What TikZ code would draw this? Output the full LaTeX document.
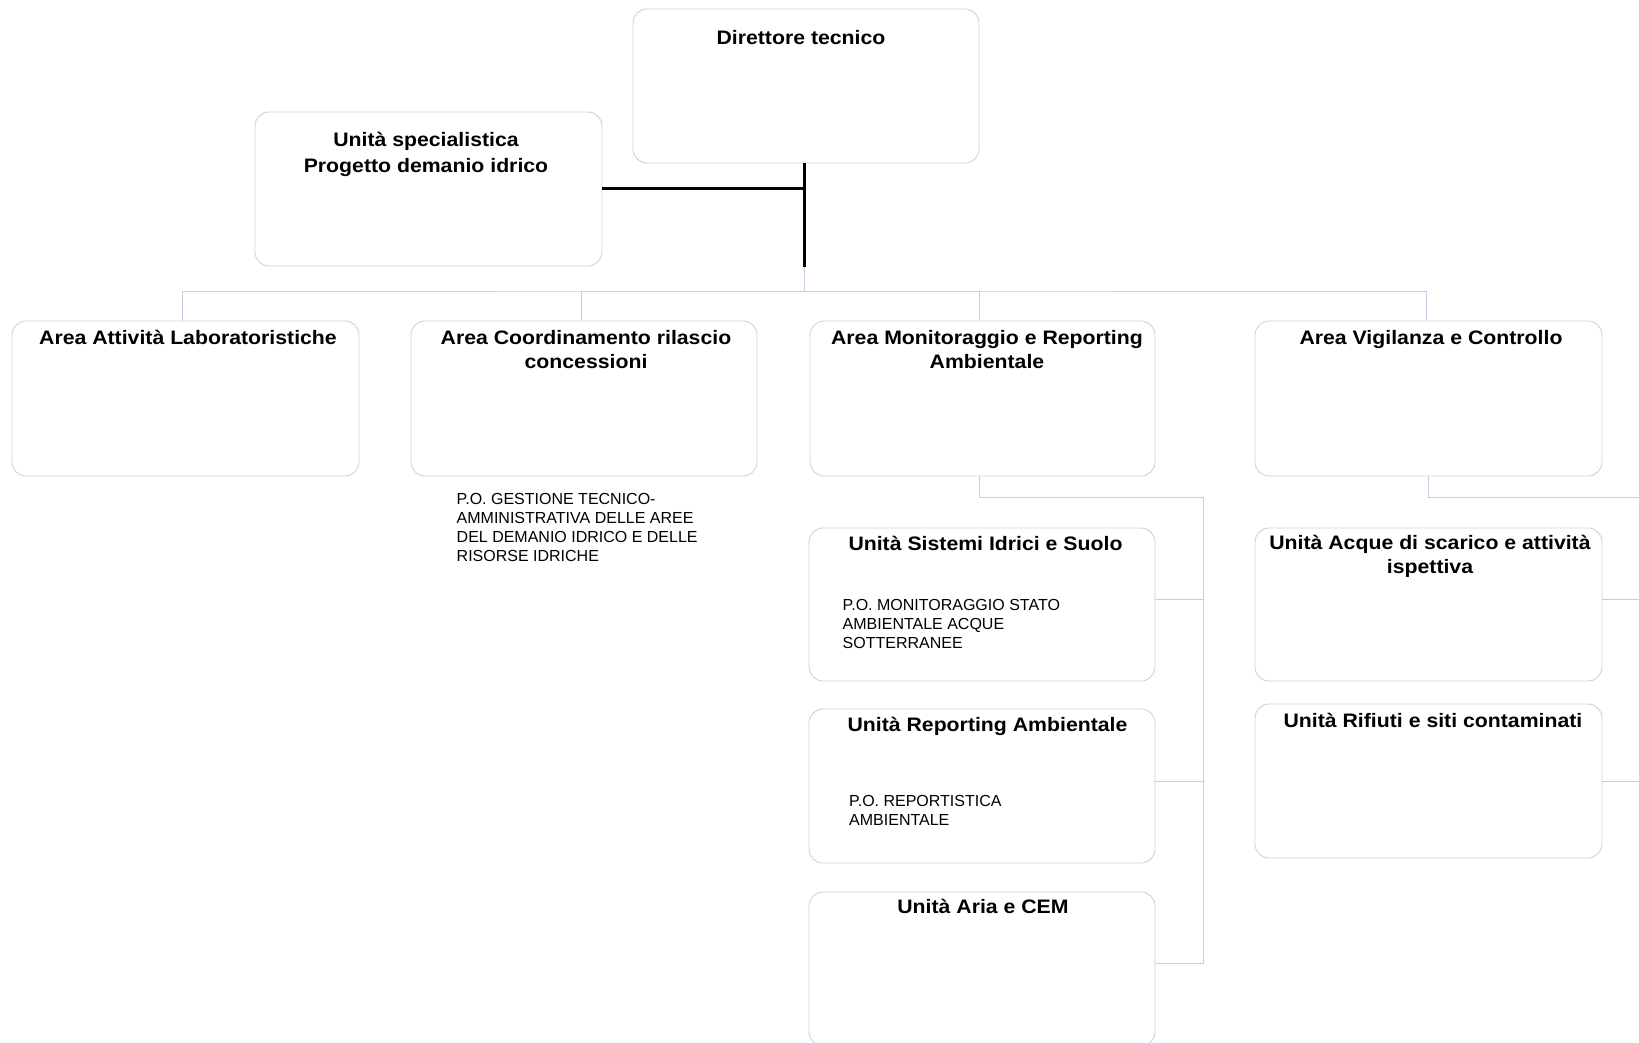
\documentclass[tikz,border=0pt]{standalone}
\usepackage{fontspec}
\setmainfont{Liberation Sans}
\newfontfamily\titlefont{Liberation Sans}[FakeStretch=1.09]
\usetikzlibrary{calc}

\definecolor{boxline}{RGB}{200,210,228}
\definecolor{linkline}{RGB}{198,204,228}

\begin{document}
\begin{tikzpicture}[x=1pt,y=-1pt,
  unit/.style={draw=boxline, line width=0.9pt, rounded corners=14pt, inner sep=0pt,
    outer sep=0pt, minimum width=346pt, minimum height=154pt},
  title/.style={font=\titlefont\bfseries\fontsize{19.5}{24}\selectfont, anchor=base,
    align=center, inner sep=0pt},
  po/.style={font=\fontsize{16}{19}\selectfont, anchor=base west, align=left, inner sep=0pt},
  link/.style={draw=linkline, line width=1pt},
  staff/.style={draw=black, line width=3pt}]

\useasboundingbox (0,0) rectangle (1639,1043);
\clip (0,0) rectangle (1639,1043);

% boxes
\node[unit] (dir) at (806,86) {};
\node[unit, minimum width=347pt] (spec) at (428.5,189) {};
\node[unit, minimum width=347pt, minimum height=155pt] (lab) at (185.5,398.5) {};
\node[unit, minimum height=155pt] (coord) at (584,398.5) {};
\node[unit, minimum width=345pt, minimum height=155pt] (mon) at (982.5,398.5) {};
\node[unit, minimum width=347pt, minimum height=155pt] (vig) at (1428.5,398.5) {};
\node[unit, minimum height=153pt] (sist) at (982,604.5) {};
\node[unit] (rep) at (982,786) {};
\node[unit] (aria) at (982,969) {};
\node[unit, minimum width=347pt, minimum height=153pt] (acque) at (1428.5,604.5) {};
\node[unit, minimum width=347pt] (rif) at (1428.5,781) {};

% staff line and main hierarchy
\coordinate (hub) at (804,291);
\coordinate (staffend) at (804,267);
\draw[link] (staffend) -- (hub);
\draw[link] ([xshift=-3.5pt]lab.north) |- (hub) -| ([xshift=-2.5pt]vig.north);
\draw[link] ([xshift=-3pt]coord.north) |- (hub);
\draw[link] ([xshift=-3.5pt]mon.north) |- (hub);
\draw[staff] (dir.south -| hub) -- (staffend);
\draw[staff] (spec.east) -- (spec.east -| hub);

% units under Area Monitoraggio
\coordinate (mtrunk) at (1203,497);
\draw[link] ([xshift=-3.5pt]mon.south) |- (mtrunk) |- ([yshift=5.5pt]aria.east);
\draw[link] ([yshift=5.5pt]sist.east) -| (mtrunk);
\draw[link] ([yshift=5pt]rep.east) -| (mtrunk);

% units under Area Vigilanza
\coordinate (vtrunk) at (1652,497);
\draw[link] ([xshift=-0.5pt]vig.south) |- (vtrunk) |- (rif.east);
\draw[link] ([yshift=5.5pt]acque.east) -| (vtrunk);

% titles (multi-line nodes are placed by the baseline of their last line)
\node[title] (t-dir) at (801,44.5) {Direttore tecnico};
\node[title, font=\titlefont\bfseries\fontsize{19.5}{25.5}\selectfont] (t-spec) at (426,172.5) {Unità specialistica\\Progetto demanio idrico};
\node[title] (t-lab) at (188,344) {Area Attività Laboratoristiche};
\node[title] (t-coord) at (586,368) {Area Coordinamento rilascio\\concessioni};
\node[title] (t-mon) at (987,368) {Area Monitoraggio e Reporting\\Ambientale};
\node[title] (t-vig) at (1431,344) {Area Vigilanza e Controllo};
\node[title] (t-sist) at (985.5,550) {Unità Sistemi Idrici e Suolo};
\node[title] (t-rep) at (987.5,731.5) {Unità Reporting Ambientale};
\node[title] (t-aria) at (983,913) {Unità Aria e CEM};
\node[title] (t-acque) at (1430,573.5) {Unità Acque di scarico e attività\\ispettiva};
\node[title] (t-rif) at (1433,727.5) {Unità Rifiuti e siti contaminati};

% position descriptions
\node[po] (po-dem) at (456.5,561.5) {P.O. GESTIONE TECNICO-\\AMMINISTRATIVA DELLE AREE\\DEL DEMANIO IDRICO E DELLE\\RISORSE IDRICHE};
\node[po] (po-mon) at (842.5,648) {P.O. MONITORAGGIO STATO\\AMBIENTALE ACQUE\\SOTTERRANEE};
\node[po] (po-rep) at (849,825) {P.O. REPORTISTICA\\AMBIENTALE};
\end{tikzpicture}
\end{document}
